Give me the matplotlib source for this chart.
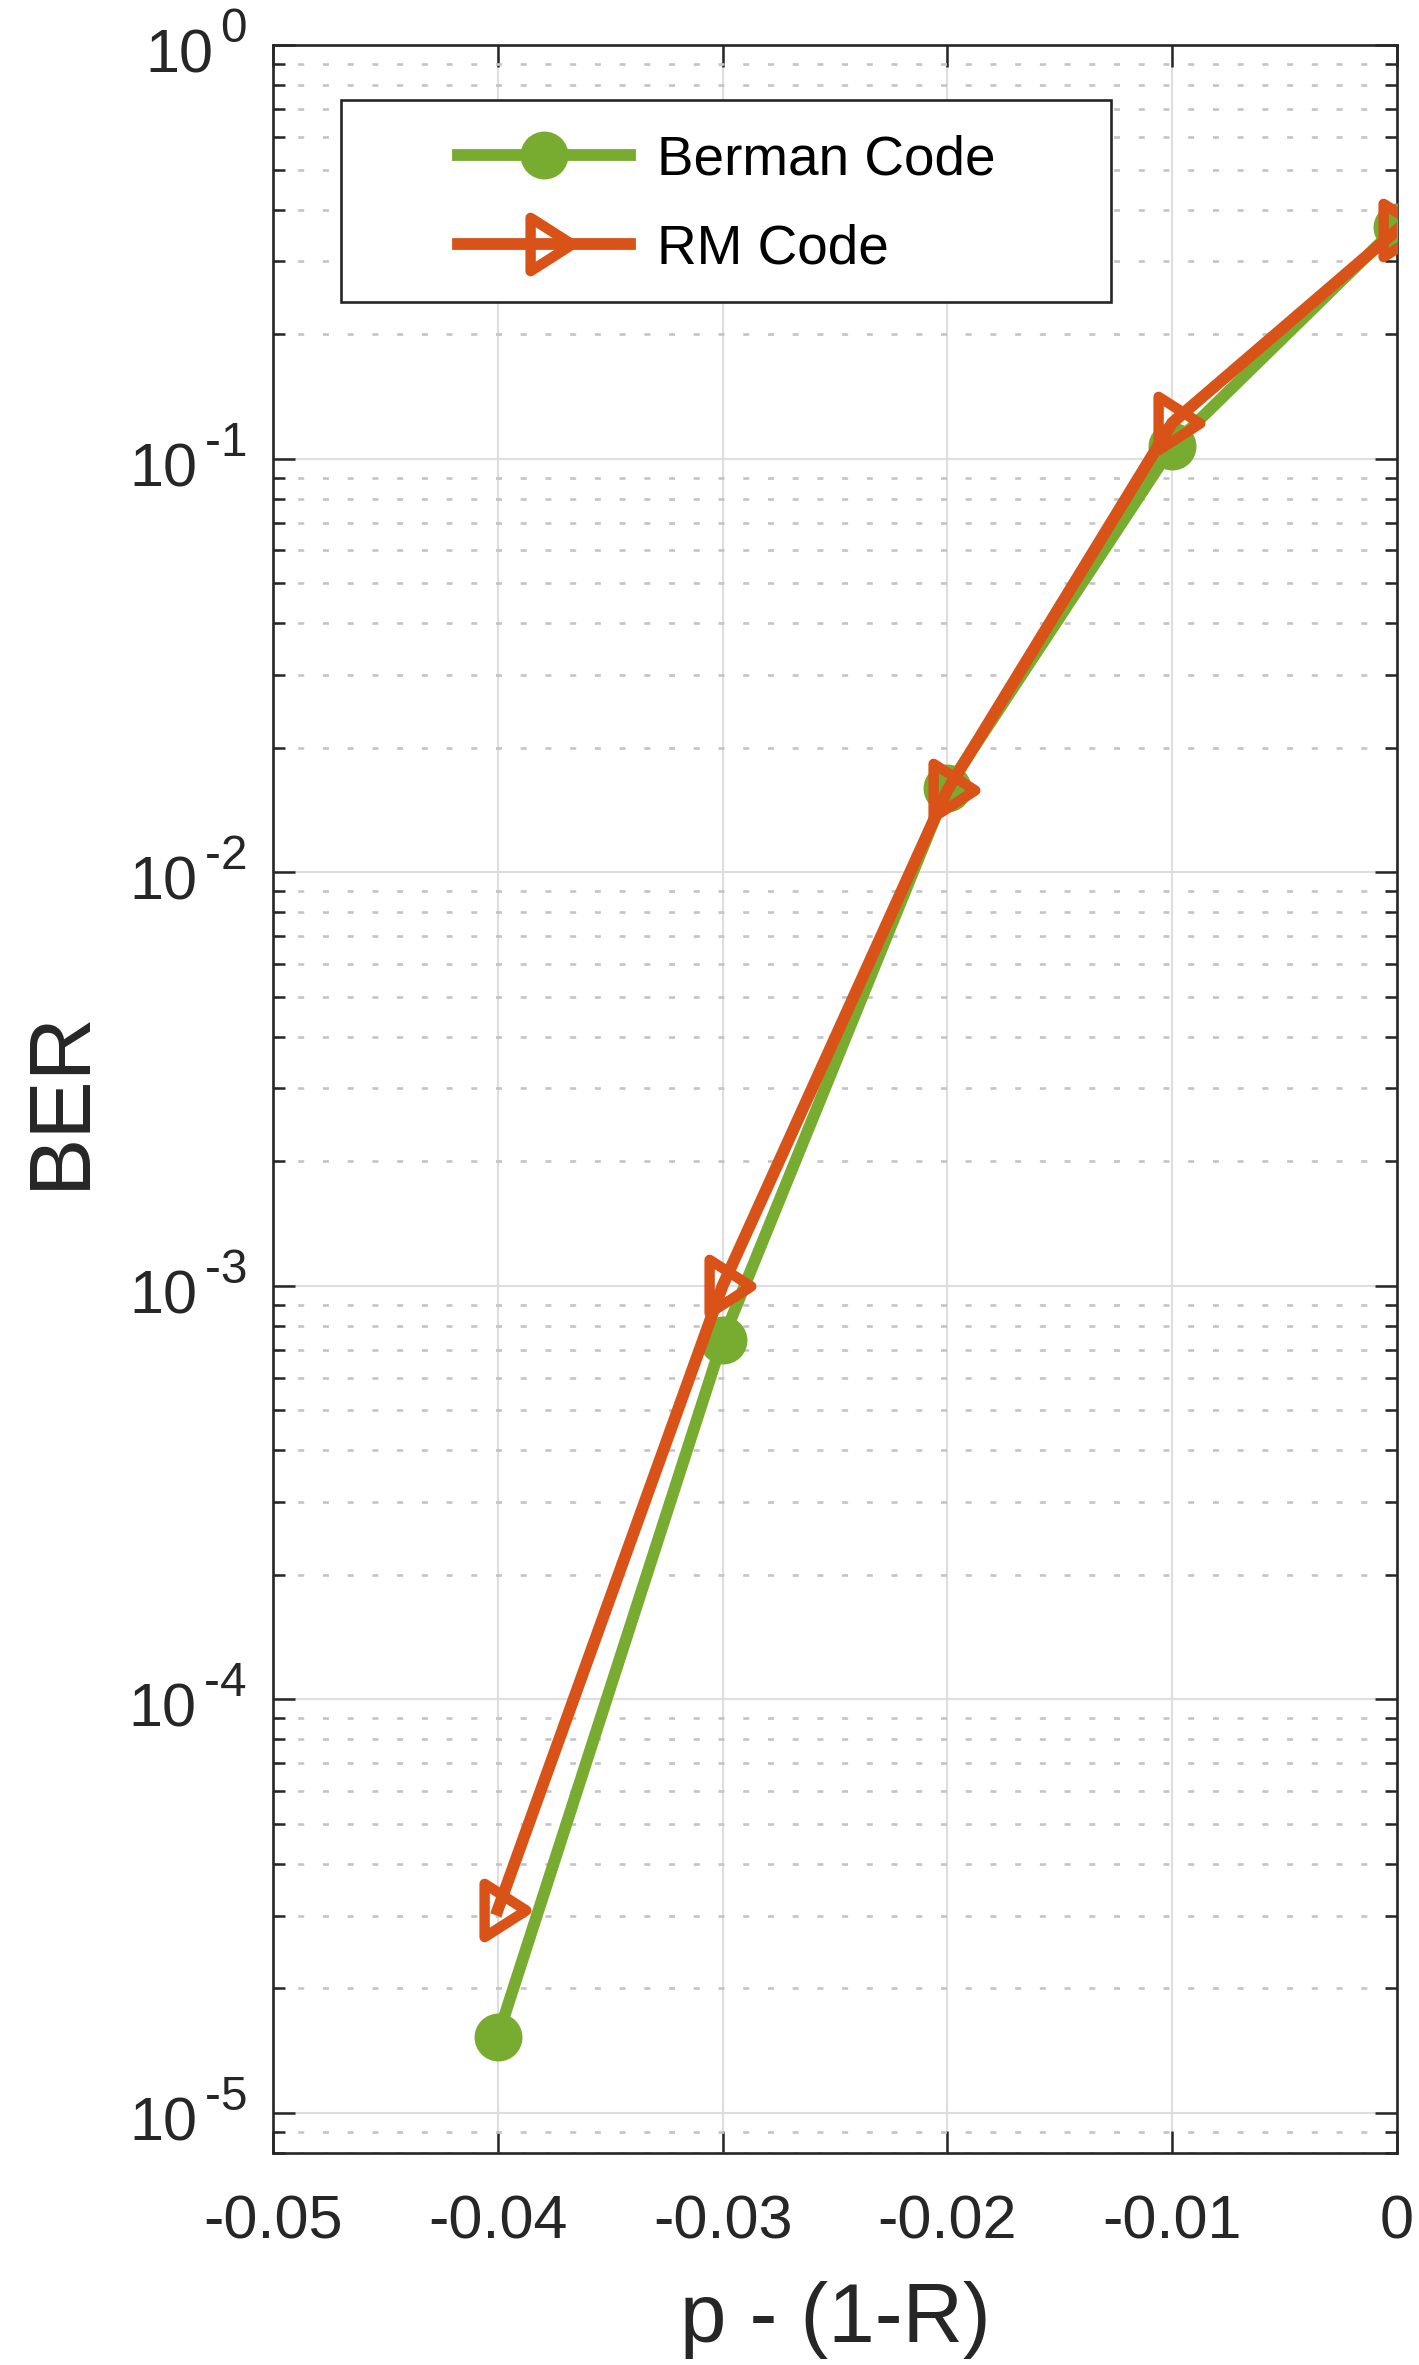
import numpy as np
import matplotlib
matplotlib.use("Agg")
import matplotlib.pyplot as plt
import matplotlib._mathtext as _mt
from matplotlib.path import Path
from matplotlib.patches import Rectangle
from matplotlib.ticker import FixedLocator, LogLocator, NullFormatter, NullLocator
from matplotlib.font_manager import findfont, FontProperties
from matplotlib.ft2font import FT2Font

# ---------------- data ----------------
x_vals = [-0.04, -0.03, -0.02, -0.01, 0.0]
berman_ber = [1.53e-5, 7.4e-4, 1.60e-2, 0.107, 0.364]
rm_ber = [3.1e-5, 1.0e-3, 1.58e-2, 0.122, 0.357]
series_labels = ["Berman Code", "RM Code"]
x_ticks = [-0.05, -0.04, -0.03, -0.02, -0.01, 0.0]
x_tick_labels = ["-0.05", "-0.04", "-0.03", "-0.02", "-0.01", "0"]
y_ticks = [1e-5, 1e-4, 1e-3, 1e-2, 1e-1, 1e0]
y_exponents = ["-5", "-4", "-3", "-2", "-1", "0"]
x_label = "p - (1-R)"
y_label = "BER"

# ---------------- style ----------------
TXT = "#262626"
GREEN = "#77AC30"
ORANGE = "#D95319"
plt.rcParams["font.family"] = ["Liberation Sans", "DejaVu Sans"]
plt.rcParams["mathtext.fontset"] = "custom"
plt.rcParams["mathtext.rm"] = "Liberation Sans"
plt.rcParams["mathtext.it"] = "Liberation Sans"
plt.rcParams["mathtext.bf"] = "Liberation Sans"
plt.rcParams["axes.unicode_minus"] = False
plt.rcParams["lines.scale_dashes"] = False

# MATLAB-like exponents: larger and raised higher
_mt.SHRINK_FACTOR = 0.78
_mt.FontConstantsBase.sup1 = 0.95

# short hyphen in exponents if the font has it
try:
    _cmap = FT2Font(findfont(FontProperties(family="Liberation Sans"))).get_charmap()
    HY = "\u2010" if 0x2010 in _cmap else "-"
except Exception:
    HY = "-"
y_tick_labels = [r"$10^{\,%s}$" % e.replace("-", HY) for e in y_exponents]

W, H, DPI = 1419, 2365, 100
fig = plt.figure(figsize=(W / DPI, H / DPI), dpi=DPI)
ax_l, ax_r, ax_t, ax_b = 273, 1397, 45, 2153
ax = fig.add_axes([ax_l / W, 1 - ax_b / H, (ax_r - ax_l) / W, (ax_b - ax_t) / H])

# triangle marker pointing right, centred on its centroid
tri = Path([(-0.5, 0.96), (1.0, 0.0), (-0.5, -0.96), (-0.5, 0.96)],
           [Path.MOVETO, Path.LINETO, Path.LINETO, Path.CLOSEPOLY])

ax.plot(x_vals, berman_ber, color=GREEN, lw=8.5, marker="o", markersize=34.5,
        markerfacecolor=GREEN, markeredgecolor=GREEN, markeredgewidth=0,
        label=series_labels[0], zorder=3)
ax.plot(x_vals, rm_ber, color=ORANGE, lw=8.5, marker=tri, markersize=40,
        markerfacecolor="none", markeredgecolor=ORANGE, markeredgewidth=7.5,
        label=series_labels[1], zorder=4)

ax.set_yscale("log")
ax.set_xlim(-0.05, 0.0)
ax.set_ylim(8e-6, 1.0)

ax.xaxis.set_major_locator(FixedLocator(x_ticks))
ax.set_xticklabels(x_tick_labels)
ax.xaxis.set_minor_locator(NullLocator())
ax.yaxis.set_major_locator(FixedLocator(y_ticks))
ax.set_yticklabels(y_tick_labels)
ax.yaxis.set_minor_locator(LogLocator(base=10, subs=np.arange(2, 10), numticks=20))
ax.yaxis.set_minor_formatter(NullFormatter())

ax.tick_params(axis="both", which="both", direction="in", top=True, right=True,
               colors=TXT, width=1.8)
ax.tick_params(axis="both", which="major", length=16, labelsize=44)
ax.tick_params(axis="y", which="minor", length=8.6)
ax.tick_params(axis="x", which="major", pad=30)
ax.tick_params(axis="y", which="major", pad=19)

for sp in ax.spines.values():
    sp.set_color(TXT)
    sp.set_linewidth(1.9)

ax.grid(True, which="major", color="#DEDEDE", lw=1.5, ls="-", zorder=0)
ax.grid(True, which="minor", axis="y", color="#C4C4C4", lw=1.9, ls=(0, (4.3, 13.5)), zorder=0)
ax.set_axisbelow(True)

ax.set_xlabel(x_label, fontsize=60, color=TXT)
ax.xaxis.set_label_coords(0.5, -0.0605)
ax.set_ylabel(y_label, fontsize=63, color=TXT)
ax.yaxis.set_label_coords(-0.152, 0.5)

# legend box (MATLAB style) and legend contents
bx0, bx1, by0, by1 = 341, 1111, 100, 302
ax_w, ax_h = ax_r - ax_l, ax_b - ax_t
rect = Rectangle(((bx0 - ax_l) / ax_w, 1 - (by1 - ax_t) / ax_h),
                 (bx1 - bx0) / ax_w, (by1 - by0) / ax_h,
                 transform=ax.transAxes, facecolor="white", edgecolor=TXT,
                 linewidth=1.9, zorder=5, clip_on=False)
ax.add_patch(rect)
leg_fs = 39.5
em = leg_fs * DPI / 72
leg = ax.legend(loc="center left",
                bbox_to_anchor=((458 - ax_l) / ax_w, 1 - (205 - ax_t) / ax_h),
                frameon=False, fontsize=leg_fs, borderpad=0, borderaxespad=0,
                handlelength=172 / em, handletextpad=27 / em,
                labelspacing=0.68, numpoints=1)
leg.set_zorder(6)
for t in leg.get_texts():
    t.set_color("black")

fig.savefig("out.png", dpi=DPI)
